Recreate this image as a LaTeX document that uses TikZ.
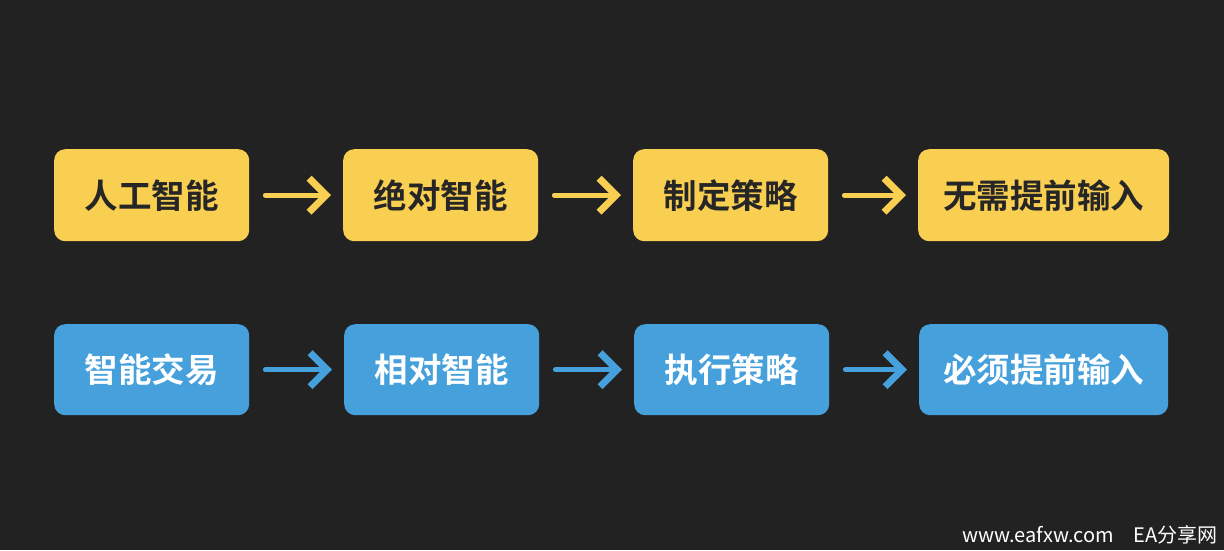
\documentclass[tikz,border=0pt]{standalone}
\usepackage{fontspec}
\setmainfont{Noto Sans CJK SC}
\newfontfamily\cjkbold[BoldFont={* Bold}]{Noto Sans CJK SC}
\usetikzlibrary{arrows.meta}
\definecolor{bg}{HTML}{222222}
\definecolor{ylw}{HTML}{F9CF52}
\definecolor{blu}{HTML}{46A0DB}
\definecolor{dk}{HTML}{262626}
\begin{document}
\begin{tikzpicture}[x=1pt,y=-1pt,
  box/.style={rounded corners=11pt,inner sep=0pt,anchor=north west,
    font=\cjkbold\bfseries\fontsize{33.5}{33.5}\selectfont},
  ybox/.style={box,fill=ylw,text=dk},
  bbox/.style={box,fill=blu,text=white},
  sk/.style={line width=5pt,line cap=round,line join=round,
    shorten <=16pt,shorten >=12pt,
    -{Straight Barb[length=17pt,width=34pt,line width=7pt]}},
  ysk/.style={sk,draw=ylw},
  bsk/.style={sk,draw=blu}]
\fill[bg] (0,0) rectangle (1224,550);
\useasboundingbox (0,0) rectangle (1224,550);
% row 1
\node[ybox,minimum width=195pt,minimum height=92pt] (a1) at (54,149) {人工智能};
\node[ybox,minimum width=195pt,minimum height=92pt] (a2) at (343,149) {绝对智能};
\node[ybox,minimum width=195pt,minimum height=92pt] (a3) at (633,149) {制定策略};
\node[ybox,minimum width=251pt,minimum height=92pt] (a4) at (918,149) {无需提前输入};
% row 2
\node[bbox,minimum width=195pt,minimum height=91pt] (b1) at (54,324) {智能交易};
\node[bbox,minimum width=195pt,minimum height=91pt] (b2) at (344,324) {相对智能};
\node[bbox,minimum width=195pt,minimum height=91pt] (b3) at (634,324) {执行策略};
\node[bbox,minimum width=249pt,minimum height=91pt] (b4) at (919,324) {必须提前输入};
% arrows
\draw[ysk] (a1.east) -- (a2.west);
\draw[ysk] (a2.east) -- (a3.west);
\draw[ysk] (a3.east) -- (a4.west);
\draw[bsk] (b1.east) -- (b2.west);
\draw[bsk] (b2.east) -- (b3.west);
\draw[bsk] (b3.east) -- (b4.west);
% watermark
\node[anchor=east,text=white,font=\fontsize{20}{20}\selectfont,inner sep=0pt] (wm) at (1218,535) {www.eafxw.com\hspace{20pt}EA分享网};
\end{tikzpicture}
\end{document}
